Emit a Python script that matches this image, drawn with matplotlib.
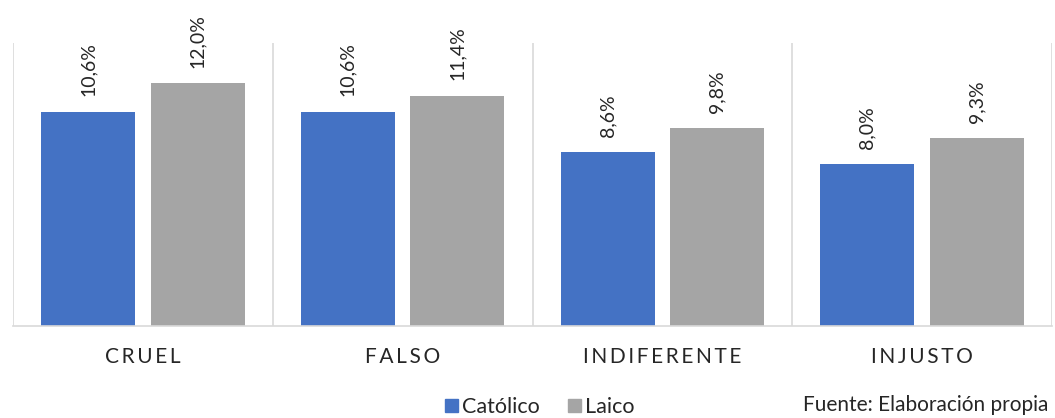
import matplotlib
matplotlib.use("Agg")
import matplotlib.pyplot as plt
from matplotlib.patches import Patch
import numpy as np

categories = ["CRUEL", "FALSO", "INDIFERENTE", "INJUSTO"]
catolico = [10.6, 10.6, 8.6, 8.0]
laico = [12.0, 11.4, 9.8, 9.3]
series_names = ["Católico", "Laico"]
source_note = "Fuente: Elaboración propia"

BLUE = "#4472C4"
GRAY = "#A5A5A5"
LINE = "#D9D9D9"
FONT = ["Lato", "DejaVu Sans"]

W, H = 1055, 418
fig = plt.figure(figsize=(W / 100, H / 100), dpi=100)
ax = fig.add_axes([13 / W, (H - 326) / H, 1039 / W, 283 / H])

x = np.arange(len(categories))
bw = 0.362
off = 0.211
b1 = ax.bar(x - off, catolico, bw, color=BLUE, zorder=2)
b2 = ax.bar(x + off, laico, bw, color=GRAY, zorder=2)

def fmt(v):
    return f"{v:.1f}%".replace(".", ",")

for bars, vals in ((b1, catolico), (b2, laico)):
    for r, v in zip(bars, vals):
        ax.annotate(fmt(v), (r.get_x() + r.get_width() / 2, r.get_height()),
                    xytext=(0, 11), textcoords="offset points",
                    rotation=90, ha="center", va="bottom",
                    fontsize=14, color="#262626", family=FONT)

ax.set_xlim(-0.5, len(categories) - 0.5)
ax.set_ylim(0, 14)
for s in ("top", "left", "right"):
    ax.spines[s].set_visible(False)
ax.spines["bottom"].set_color(LINE)
ax.spines["bottom"].set_linewidth(1.2)
for xv in np.arange(-0.5, len(categories), 1.0):
    ax.axvline(xv, color=LINE, lw=1.2, zorder=1)
ax.set_xticks([])
ax.set_yticks([])

for xi, c in zip(x, categories):
    ax.text(xi, -(357 - 326) / 283, "\u2009".join(c),
            transform=ax.get_xaxis_transform(), ha="center", va="center",
            fontsize=15, color="#262626", family=FONT)

handles = [Patch(color=BLUE), Patch(color=GRAY)]
fig.legend(handles, series_names, loc="center",
           bbox_to_anchor=(540 / W, 1 - 407 / H), ncol=2, frameon=False,
           handlelength=0.6, handleheight=0.6, handletextpad=0.2,
           columnspacing=1.3, borderaxespad=0, borderpad=0,
           prop={"family": FONT, "size": 15.5})
for t in fig.legends[0].get_texts():
    t.set_color("#262626")

fig.text(803 / W, 1 - 411 / H, source_note, ha="left", va="baseline",
         fontsize=15, color="#262626", family=FONT)

fig.savefig("out.png", dpi=100)
